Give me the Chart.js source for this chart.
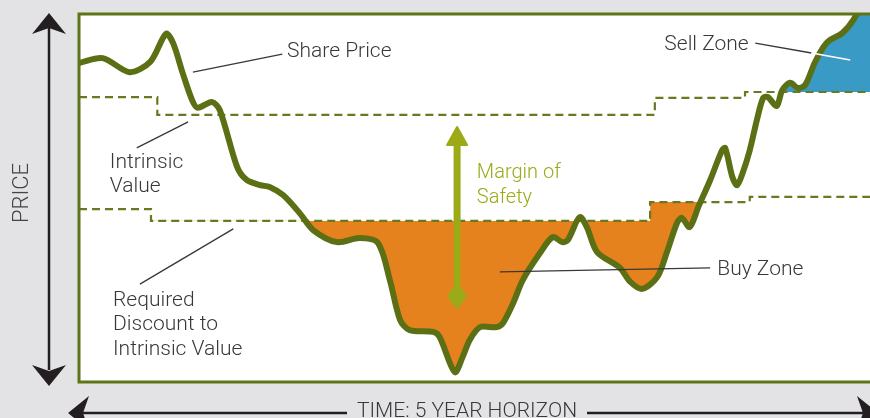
<!DOCTYPE html>
<html>
<head>
<meta charset="utf-8">
<script src="https://cdn.jsdelivr.net/npm/chart.js@4"></script>
<style>
  html, body { margin: 0; padding: 0; background: #e3e3e5; }
  canvas { display: block; }
</style>
</head>
<body>
<canvas id="chart" width="870" height="418"></canvas>
<script>
// Time axis runs 0..100 (share of the 5 year horizon), price axis 0..100 (relative)
const sharePrice = [
  [0, 86.7], [3.0, 88.0], [6.4, 84.2], [9.0, 87.0], [11.0, 94.6], [11.9, 92.1],
  [13.1, 84.0], [14.3, 76.6], [15.0, 74.5], [16.8, 76.1], [17.8, 73.9], [20.0, 58.4],
  [21.2, 54.9], [22.9, 53.5], [24.1, 53.0], [25.8, 50.8], [27.9, 45.9], [29.6, 41.3],
  [32.6, 38.0], [35.5, 39.1], [37.8, 37.8], [39.3, 27.7], [40.6, 16.8], [41.8, 14.1],
  [44.8, 13.6], [45.6, 12.2], [47.5, 2.7], [48.5, 6.8], [49.4, 11.4], [50.7, 14.9],
  [52.8, 14.9], [53.6, 16.0], [54.9, 21.5], [56.1, 27.7], [58.3, 35.1], [59.9, 39.4],
  [61.1, 38.0], [61.8, 38.6], [63.3, 44.8], [64.2, 42.1], [65.5, 35.3], [68.4, 31.0],
  [69.7, 27.2], [71.2, 25.3], [73.1, 28.5], [74.3, 35.1], [75.6, 43.2], [76.2, 44.6],
  [77.2, 42.1], [78.3, 47.6], [79.8, 54.9], [81.3, 63.0], [81.7, 63.6], [82.6, 55.7],
  [83.2, 53.5], [83.9, 56.8], [84.8, 63.0], [85.7, 71.2], [86.5, 77.2], [87.1, 77.4],
  [88.2, 75.0], [88.9, 79.3], [89.9, 81.3], [90.9, 79.9], [91.8, 80.7], [93.0, 86.7],
  [94.1, 91.0], [94.9, 92.9], [96.5, 94.8], [97.9, 98.4], [100, 106.5]
];

const intrinsicValue = [
  [0, 77.4], [9.9, 77.4], [9.9, 72.6], [72.8, 72.6],
  [72.8, 77.2], [84.2, 77.2], [84.2, 78.8], [100, 78.8]
];

const requiredDiscount = [
  [0, 47.0], [9.1, 47.0], [9.1, 43.8], [72.2, 43.8],
  [72.2, 48.9], [84.8, 48.9], [84.8, 50.3], [100, 50.3]
];

const sellStart = 85; // where the sell-zone fill helper picks up the price line

const colors = {
  bg: '#e3e3e5',
  price: '#5b6f14',
  dash: '#667a22',
  frame: '#5e7516',
  buy: '#e6821e',
  sell: '#3a9ac6',
  margin: '#9caa17',
  text: '#383838',
  arrow: '#231f20'
};

const pts = arr => arr.map(([x, y]) => ({ x, y }));
const FAMILY = 'Roboto, "Liberation Sans", Arial, sans-serif';

const backdrop = {
  id: 'backdrop',
  beforeDraw(chart) {
    const { ctx, chartArea: a, width, height } = chart;
    ctx.save();
    ctx.fillStyle = colors.bg;
    ctx.fillRect(0, 0, width, height);
    ctx.fillStyle = '#ffffff';
    ctx.fillRect(a.left, a.top, a.right - a.left, a.bottom - a.top);
    ctx.restore();
  }
};

const notes = {
  id: 'notes',
  afterDatasetsDraw(chart) {
    const { ctx, chartArea: a, scales: { x, y } } = chart;
    const X = v => x.getPixelForValue(v);
    const Y = v => y.getPixelForValue(v);
    ctx.save();

    // leader lines
    const leader = (x1, y1, x2, y2, color) => {
      ctx.strokeStyle = color || colors.text;
      ctx.lineWidth = 1.3;
      ctx.beginPath();
      ctx.moveTo(X(x1), Y(y1));
      ctx.lineTo(X(x2), Y(y2));
      ctx.stroke();
    };
    leader(14.4, 84.2, 25.7, 89.1);
    leader(7.3, 63.6, 13.8, 70.7);
    leader(7.7, 26.6, 19.5, 41.6);
    leader(53.2, 29.9, 79.8, 31.0);
    leader(85.5, 92.1, 92.6, 89.4);
    leader(92.6, 89.4, 97.5, 87.5, '#ffffff');

    // labels
    ctx.textAlign = 'left';
    ctx.textBaseline = 'alphabetic';
    const label = (lines, lx, ly, color, size) => {
      ctx.font = `300 ${size || 21}px ${FAMILY}`;
      ctx.fillStyle = color || colors.text;
      lines.forEach((t, i) => ctx.fillText(t, X(lx), Y(ly) + i * 24.5));
    };
    label(['Share Price'], 26.3, 88.3);
    label(['Sell Zone'], 74.0, 90.2);
    label(['Intrinsic', 'Value'], 3.9, 58.2);
    label(['Required', 'Discount to', 'Intrinsic Value'], 4.3, 20.7);
    label(['Buy Zone'], 80.7, 29.1);
    label(['Margin of', 'Safety'], 50.3, 55.4, colors.margin, 20);

    // margin of safety arrow
    const mx = X(47.8), top = Y(69.3), bot = Y(20.1);
    ctx.fillStyle = colors.margin;
    ctx.strokeStyle = colors.margin;
    ctx.lineJoin = 'round';
    ctx.lineWidth = 2;
    ctx.fillRect(mx - 3.5, top + 14, 7, bot - top - 24);
    ctx.beginPath();
    ctx.moveTo(mx, top);
    ctx.lineTo(mx + 10, top + 18);
    ctx.lineTo(mx - 10, top + 18);
    ctx.closePath();
    ctx.fill();
    ctx.stroke();
    ctx.beginPath();
    ctx.moveTo(mx, bot - 24);
    ctx.lineTo(mx + 9, bot - 12);
    ctx.lineTo(mx, bot);
    ctx.lineTo(mx - 9, bot - 12);
    ctx.closePath();
    ctx.fill();
    ctx.stroke();

    // plot frame (right side runs off the page)
    ctx.strokeStyle = colors.frame;
    ctx.lineWidth = 3;
    ctx.lineJoin = 'miter';
    ctx.beginPath();
    ctx.moveTo(a.right + 5, a.top);
    ctx.lineTo(a.left, a.top);
    ctx.lineTo(a.left, a.bottom);
    ctx.lineTo(a.right + 5, a.bottom);
    ctx.stroke();
    ctx.restore();
  },
  afterDraw(chart) {
    const { ctx, chartArea: a } = chart;
    ctx.save();
    ctx.strokeStyle = colors.arrow;
    ctx.fillStyle = colors.arrow;
    ctx.lineWidth = 2.5;

    // vertical PRICE arrow
    const ax = a.left - 30;
    ctx.beginPath();
    ctx.moveTo(ax, a.top + 14);
    ctx.lineTo(ax, a.bottom - 12);
    ctx.stroke();
    const head = (tx, ty, dx, dy) => {
      // dx,dy: unit direction of the arrow
      const px = -dy, py = dx;
      ctx.beginPath();
      ctx.moveTo(tx, ty);
      ctx.lineTo(tx - dx * 21 + px * 17, ty - dy * 21 + py * 17);
      ctx.lineTo(tx - dx * 15, ty - dy * 15);
      ctx.lineTo(tx - dx * 21 - px * 17, ty - dy * 21 - py * 17);
      ctx.closePath();
      ctx.fill();
    };
    head(ax, a.top - 1, 0, -1);
    head(ax, a.bottom + 4, 0, 1);

    // horizontal TIME arrow
    const ay = a.bottom + 31;
    ctx.beginPath();
    ctx.moveTo(a.left - 4, ay);
    ctx.lineTo(a.left + 268, ay);
    ctx.moveTo(a.left + 508, ay);
    ctx.lineTo(a.right, ay);
    ctx.stroke();
    head(a.left - 11, ay, -1, 0);
    head(a.right + 8, ay, 1, 0);

    ctx.font = `300 21px ${FAMILY}`;
    ctx.fillStyle = colors.text;
    ctx.textAlign = 'center';
    ctx.textBaseline = 'alphabetic';
    ctx.fillText('TIME: 5 YEAR HORIZON', a.left + 388, a.bottom + 35);

    ctx.translate(28, 193);
    ctx.rotate(-Math.PI / 2);
    ctx.font = `300 22px ${FAMILY}`;
    ctx.fillStyle = '#444';
    ctx.fillText('PRICE', 0, 0);
    ctx.restore();
  }
};

new Chart(document.getElementById('chart'), {
  type: 'line',
  data: {
    datasets: [
      {
        label: 'Share Price',
        data: pts(sharePrice),
        borderColor: colors.price,
        borderWidth: 6,
        borderJoinStyle: 'round',
        borderCapStyle: 'round',
        tension: 0.3,
        pointRadius: 0,
        clip: 0,
        fill: { target: 2, above: 'rgba(0,0,0,0)', below: colors.buy }
      },
      {
        label: 'Intrinsic Value',
        data: pts(intrinsicValue),
        borderColor: colors.dash,
        borderWidth: 2.2,
        borderDash: [8, 5],
        tension: 0,
        pointRadius: 0,
        fill: false
      },
      {
        label: 'Required Discount to Intrinsic Value',
        data: pts(requiredDiscount),
        borderColor: colors.dash,
        borderWidth: 2.2,
        borderDash: [8, 5],
        tension: 0,
        pointRadius: 0,
        fill: false
      },
      {
        label: 'Sell Zone',
        data: pts(sharePrice.filter(p => p[0] >= sellStart)),
        borderColor: 'rgba(0,0,0,0)',
        borderWidth: 0,
        tension: 0.3,
        pointRadius: 0,
        clip: 0,
        fill: { target: 1, above: colors.sell, below: 'rgba(0,0,0,0)' }
      }
    ]
  },
  options: {
    responsive: false,
    animation: false,
    devicePixelRatio: 1,
    layout: { padding: { left: 79, top: 14, right: 0, bottom: 36 } },
    scales: {
      x: { type: 'linear', min: 0, max: 100, display: false },
      y: { min: 0, max: 100, display: false }
    },
    plugins: {
      legend: { display: false },
      tooltip: { enabled: false },
      filler: { drawTime: 'beforeDatasetsDraw' }
    }
  },
  plugins: [backdrop, notes]
});
</script>
</body>
</html>
